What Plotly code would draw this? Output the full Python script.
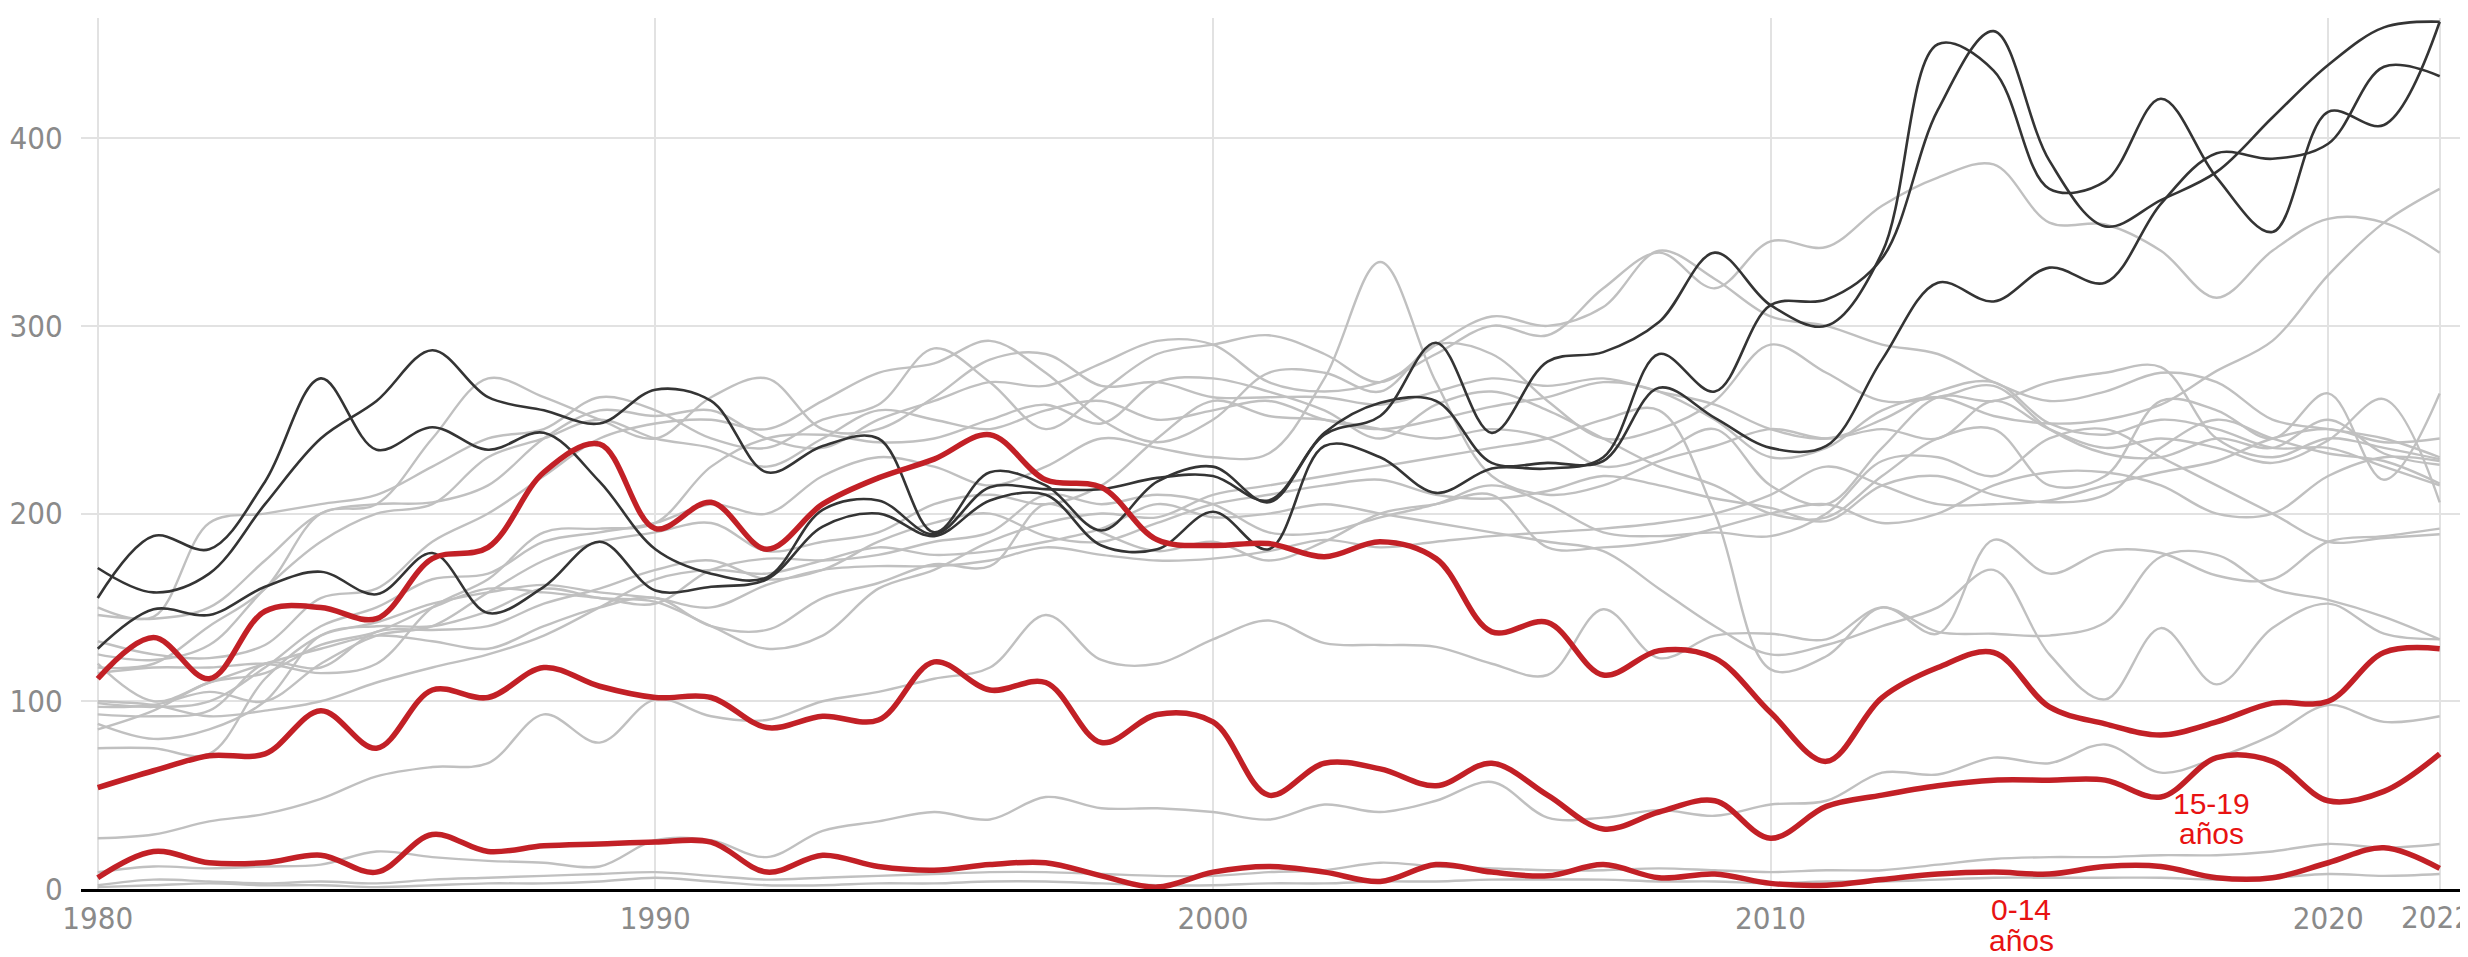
import plotly.graph_objects as go

years = list(range(1980, 2023))

# Highlighted red series
red_top = [112, 134, 112, 148, 150, 144, 176, 182, 222, 237, 192, 206, 181, 205, 219, 229, 242, 218, 214, 186,
           183, 184, 177, 185, 176, 137, 142, 114, 127, 123, 94, 68, 102, 118, 126, 97, 88, 82, 89, 99, 100, 126, 128]
red_15_19 = [54, 63, 71, 72, 95, 75, 106, 102, 118, 108, 102, 102, 86, 92, 90, 121, 106, 110, 78, 93,
             89, 50, 67, 64, 55, 67, 50, 32, 41, 47, 27, 44, 50, 55, 58, 58, 58, 49, 70, 68, 47, 52, 72]
red_0_14 = [6, 20, 14, 14, 18, 9, 29, 20, 23, 24, 25, 25, 9, 18, 12, 10, 13, 14, 7, 1,
            9, 12, 9, 4, 13, 9, 7, 13, 6, 8, 3, 2, 5, 8, 9, 8, 12, 12, 6, 6, 14, 22, 11]

# Dark series
dark_1 = [155, 188, 181, 217, 272, 234, 246, 234, 243, 217, 181, 168, 166, 202, 207, 189, 214, 213, 213, 219,
          220, 207, 243, 259, 260, 227, 227, 228, 267, 251, 235, 236, 282, 323, 313, 331, 323, 365, 392, 389, 397, 438, 433]
dark_2 = [171, 158, 168, 205, 240, 260, 287, 262, 255, 248, 266, 260, 222, 236, 240, 190, 222, 215, 191, 217,
          225, 206, 242, 252, 291, 243, 281, 286, 302, 339, 311, 300, 339, 450, 436, 373, 377, 421, 379, 350, 414, 407, 462]
dark_3 = [128, 149, 146, 161, 169, 157, 179, 147, 161, 185, 159, 161, 165, 193, 200, 188, 207, 210, 183, 181,
          201, 181, 236, 230, 211, 224, 224, 230, 285, 265, 311, 314, 336, 415, 457, 388, 353, 367, 382, 411, 439, 459, 462]

# Background grey series
grey_series = [
    [146, 144, 150, 175, 200, 205, 206, 215, 240, 255, 252, 255, 240, 235, 250, 260, 270, 268, 280, 292,
     290, 270, 265, 270, 285, 300, 295, 320, 339, 320, 345, 342, 364, 379, 386, 355, 354, 340, 315, 340, 357, 355, 339],
    [125, 122, 130, 160, 185, 200, 205, 230, 240, 250, 240, 235, 225, 240, 255, 250, 245, 255, 260, 250,
     255, 260, 250, 245, 250, 257, 262, 270, 265, 250, 230, 235, 255, 262, 252, 248, 250, 258, 276, 292, 327, 355, 373],
    [99, 97, 100, 118, 140, 150, 165, 168, 185, 190, 195, 205, 200, 220, 230, 225, 215, 225, 240, 235,
     230, 232, 272, 334, 270, 220, 210, 215, 228, 236, 245, 240, 245, 240, 260, 245, 235, 240, 235, 227, 239, 261, 206],
    [88, 80, 85, 100, 135, 140, 140, 148, 160, 155, 153, 140, 128, 135, 160, 170, 185, 195, 200, 198,
     210, 215, 220, 225, 230, 235, 240, 250, 255, 200, 117, 124, 150, 136, 186, 168, 180, 179, 167, 165, 185, 188, 192],
    [118, 120, 140, 160, 200, 205, 240, 272, 262, 250, 240, 262, 272, 245, 245, 262, 282, 285, 268, 270,
     262, 262, 262, 258, 265, 272, 268, 272, 265, 258, 245, 240, 250, 265, 270, 248, 242, 250, 245, 235, 235, 225, 215],
    [150, 145, 195, 200, 205, 210, 225, 240, 245, 262, 255, 240, 235, 250, 258, 288, 270, 245, 265, 285,
     290, 295, 285, 270, 290, 305, 300, 310, 340, 325, 305, 300, 290, 285, 270, 260, 265, 275, 270, 250, 245, 240, 230],
    [132, 125, 123, 130, 155, 160, 185, 200, 220, 240, 248, 250, 245, 260, 275, 280, 292, 275, 250, 238,
     250, 275, 275, 265, 290, 285, 260, 240, 245, 260, 290, 275, 260, 262, 268, 245, 232, 230, 240, 235, 250, 232, 226],
    [115, 118, 118, 120, 115, 120, 150, 165, 190, 192, 195, 225, 240, 242, 238, 240, 250, 258, 248, 270,
     272, 265, 255, 240, 258, 265, 255, 240, 225, 215, 200, 198, 220, 240, 245, 215, 220, 260, 255, 240, 264, 218, 264],
    [97, 98, 105, 100, 120, 135, 140, 158, 175, 185, 190, 195, 180, 185, 190, 205, 210, 205, 215, 240,
     260, 252, 250, 245, 240, 245, 240, 225, 232, 245, 215, 205, 235, 262, 260, 270, 275, 278, 240, 230, 240, 235, 229],
    [93, 92, 95, 120, 118, 137, 138, 140, 152, 160, 170, 175, 165, 170, 185, 195, 200, 188, 185, 195,
     205, 210, 215, 218, 210, 208, 212, 220, 215, 208, 203, 196, 215, 220, 210, 206, 210, 235, 250, 240, 232, 228, 216],
    [85, 95, 110, 115, 130, 137, 150, 160, 158, 155, 152, 170, 176, 175, 178, 185, 190, 210, 205, 210,
     205, 190, 190, 198, 205, 215, 205, 190, 188, 190, 188, 200, 228, 230, 220, 240, 245, 230, 215, 200, 185, 187, 189],
    [75, 75, 72, 112, 135, 142, 152, 158, 162, 158, 155, 150, 162, 170, 172, 172, 175, 182, 178, 175,
     176, 180, 186, 182, 185, 188, 190, 192, 195, 200, 210, 225, 215, 205, 205, 207, 215, 222, 228, 240, 245, 238, 240],
    [120, 100, 110, 120, 128, 135, 132, 128, 140, 150, 155, 140, 138, 155, 163, 173, 172, 205, 190, 180,
     185, 175, 185, 200, 205, 210, 182, 182, 185, 192, 200, 205, 195, 200, 215, 222, 222, 215, 200, 200, 220, 230, 228],
    [27, 29, 36, 40, 48, 60, 65, 67, 93, 78, 101, 92, 90, 100, 105, 112, 118, 146, 122, 120,
     133, 143, 131, 130, 129, 120, 114, 149, 123, 135, 136, 133, 150, 137, 136, 135, 142, 177, 178, 160, 154, 145, 133],
    [100, 98, 92, 95, 100, 110, 118, 125, 135, 150, 165, 170, 168, 175, 182, 178, 180, 185, 192, 205,
     198, 200, 205, 200, 195, 190, 185, 180, 160, 140, 125, 130, 140, 150, 170, 125, 101, 139, 109, 139, 152, 136, 133],
    [9, 12, 11, 12, 13, 20, 17, 15, 14, 12, 26, 26, 17, 31, 36, 41, 37, 49, 43, 43,
     41, 37, 45, 41, 47, 57, 38, 38, 42, 39, 45, 47, 62, 61, 70, 67, 77, 62, 70, 82, 98, 89, 92],
    [2, 5, 4, 3, 4, 3, 5, 6, 7, 8, 9, 7, 5, 6, 7, 8, 9, 9, 8, 7,
     7, 9, 10, 14, 12, 11, 10, 10, 11, 10, 9, 10, 10, 13, 16, 17, 17, 18, 18, 20, 24, 22, 24],
    [1, 2, 3, 2, 2, 1, 2, 3, 3, 4, 6, 4, 2, 2, 3, 3, 4, 4, 3, 2,
     2, 3, 3, 4, 4, 5, 5, 5, 4, 4, 3, 4, 4, 5, 6, 6, 6, 6, 5, 6, 8, 7, 8],
]

x_tickvals = [1980, 1990, 2000, 2010, 2020, 2022]
x_ticktext = ["1980", "1990", "2000", "2010", "2020", ""]   # 2022 label drawn separately (edge of page)
last_year_label = "2022"
y_tickvals = [0, 100, 200, 300, 400]
y_ticktext = ["0", "100", "200", "300", "400"]

# Label texts (each line placed on its own)
label_0_14 = ["0-14", "años"]
label_15_19 = ["15-19", "años"]

GREY = "rgb(192,192,192)"
DARK = "rgb(52,52,52)"
RED = "rgb(194,32,38)"

fig = go.Figure()
for i, s in enumerate(grey_series):
    fig.add_trace(go.Scatter(x=years, y=s, mode="lines", name=f"gris {i+1}",
                             line=dict(color=GREY, width=2.4, shape="spline", smoothing=1.0),
                             hoverinfo="skip"))
for i, s in enumerate([dark_1, dark_2, dark_3]):
    fig.add_trace(go.Scatter(x=years, y=s, mode="lines", name=f"oscuro {i+1}",
                             line=dict(color=DARK, width=2.6, shape="spline", smoothing=1.0)))
for name, s in [("20-24 años", red_top), ("15-19 años", red_15_19), ("0-14 años", red_0_14)]:
    fig.add_trace(go.Scatter(x=years, y=s, mode="lines", name=name,
                             line=dict(color=RED, width=5.5, shape="spline", smoothing=1.0)))

tick_font = dict(family="DejaVu Sans Condensed, Liberation Sans Narrow, Roboto, sans-serif",
                 size=31, color="rgb(138,138,138)")
ann_font = dict(family="Liberation Sans, Arial, sans-serif", size=30, color="rgb(232,18,18)")

PLOT_L, PLOT_R, PLOT_B, PLOT_H = 73, 2454, 881, 871

# last x tick label kept inside the page, right-aligned near the edge
fig.add_annotation(x=(2466 - PLOT_L) / (PLOT_R - PLOT_L), y=-(909 - PLOT_B) / PLOT_H,
                   xref="paper", yref="paper", xanchor="right", yanchor="middle",
                   text=last_year_label, showarrow=False, font=tick_font)

# "0-14 años" below the axis
for txt, py in zip(label_0_14, [-(901 - PLOT_B) / PLOT_H, -(932 - PLOT_B) / PLOT_H]):
    fig.add_annotation(x=2014.5, y=py, xref="x", yref="paper", yanchor="middle",
                       text=txt, showarrow=False, font=ann_font)
for txt, vy in zip(label_15_19, [45.5, 29.5]):
    fig.add_annotation(x=2017.9, y=vy, xref="x", yref="y", yanchor="middle",
                       text=txt, showarrow=False, font=ann_font)

fig.update_layout(
    width=2468, height=957,
    margin=dict(l=PLOT_L, r=2468 - PLOT_R, t=10, b=957 - PLOT_B),
    paper_bgcolor="white", plot_bgcolor="white",
    showlegend=False,
    xaxis=dict(range=[1979.7, 2022.4], tickvals=x_tickvals, ticktext=x_ticktext,
               showgrid=True, gridcolor="rgb(226,226,226)", gridwidth=2,
               zeroline=False, showline=True, linecolor="black", linewidth=3,
               ticks="", tickfont=tick_font, automargin=False),
    yaxis=dict(range=[0, 464], tickvals=y_tickvals, ticktext=y_ticktext,
               showgrid=True, gridcolor="rgb(226,226,226)", gridwidth=2,
               zeroline=False, showline=False,
               ticks="outside", ticklen=11, tickcolor="rgba(0,0,0,0)",
               tickfont=tick_font, automargin=False),
)

fig.write_html("out.html")
